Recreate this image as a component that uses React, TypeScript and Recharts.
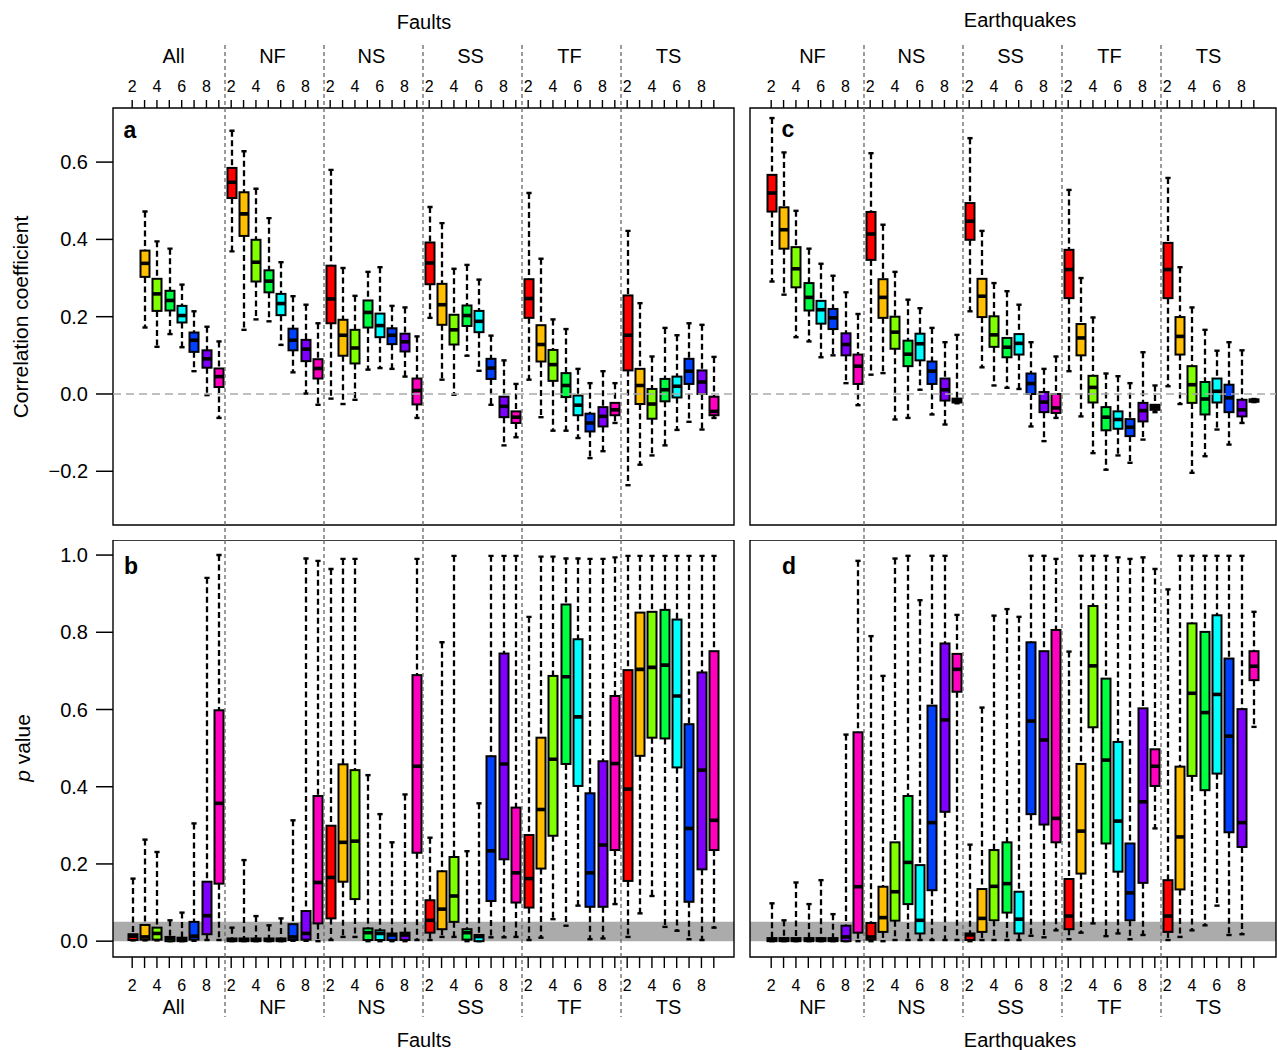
import React from 'react';
import { BarChart, Bar, XAxis, YAxis, ReferenceArea, ReferenceLine } from 'recharts';

const COLORS = ['#FF0000', '#FFBF00', '#80FF00', '#00FF40', '#00FFFF', '#0040FF', '#8000FF', '#FF00BF'];
const FONT = '"Liberation Sans", Arial, Helvetica, sans-serif';

const faultGroups = ['All', 'NF', 'NS', 'SS', 'TF', 'TS'];
const quakeGroups = ['NF', 'NS', 'SS', 'TF', 'TS'];

// each box: [min, q1, median, q3, max], one per window size 2..9
type Box = number[] | null;

const corrFaultAll: Box[] = [
  null,
  [0.172, 0.303, 0.338, 0.371, 0.472],
  [0.122, 0.215, 0.259, 0.298, 0.395],
  [0.155, 0.216, 0.242, 0.267, 0.376],
  [0.121, 0.185, 0.203, 0.228, 0.283],
  [0.059, 0.109, 0.139, 0.159, 0.214],
  [-0.003, 0.068, 0.091, 0.113, 0.174],
  [-0.062, 0.018, 0.045, 0.066, 0.136],
];
const corrFaultNF: Box[] = [
  [0.369, 0.507, 0.548, 0.585, 0.681],
  [0.166, 0.409, 0.466, 0.522, 0.628],
  [0.193, 0.291, 0.341, 0.399, 0.531],
  [0.188, 0.263, 0.292, 0.32, 0.455],
  [0.127, 0.204, 0.234, 0.259, 0.341],
  [0.056, 0.113, 0.139, 0.169, 0.253],
  [0.001, 0.085, 0.116, 0.14, 0.231],
  [-0.028, 0.04, 0.066, 0.09, 0.183],
];
const corrFaultNS: Box[] = [
  [-0.012, 0.183, 0.246, 0.332, 0.58],
  [-0.026, 0.099, 0.152, 0.192, 0.326],
  [-0.015, 0.079, 0.119, 0.166, 0.254],
  [0.063, 0.172, 0.211, 0.242, 0.316],
  [0.067, 0.147, 0.177, 0.208, 0.328],
  [0.065, 0.129, 0.152, 0.17, 0.228],
  [0.045, 0.11, 0.135, 0.156, 0.224],
  [-0.062, -0.027, 0.009, 0.04, 0.149],
];
const corrFaultSS: Box[] = [
  [0.197, 0.284, 0.339, 0.392, 0.484],
  [0.037, 0.179, 0.231, 0.285, 0.442],
  [-0.002, 0.128, 0.166, 0.205, 0.324],
  [0.099, 0.176, 0.203, 0.229, 0.334],
  [0.06, 0.16, 0.188, 0.215, 0.296],
  [-0.028, 0.039, 0.067, 0.091, 0.151],
  [-0.133, -0.06, -0.032, -0.007, 0.087],
  [-0.112, -0.075, -0.06, -0.045, 0.026],
];
const corrFaultTF: Box[] = [
  [0.037, 0.197, 0.247, 0.297, 0.52],
  [-0.06, 0.084, 0.128, 0.178, 0.35],
  [-0.095, 0.034, 0.076, 0.114, 0.193],
  [-0.095, -0.008, 0.022, 0.054, 0.168],
  [-0.114, -0.055, -0.029, -0.004, 0.065],
  [-0.166, -0.097, -0.075, -0.051, 0.028],
  [-0.148, -0.084, -0.058, -0.034, 0.059],
  [-0.075, -0.055, -0.041, -0.023, 0.028],
];
const corrFaultTS: Box[] = [
  [-0.236, 0.061, 0.152, 0.255, 0.422],
  [-0.183, -0.026, 0.022, 0.065, 0.235],
  [-0.159, -0.064, -0.026, 0.013, 0.097],
  [-0.133, -0.019, 0.011, 0.039, 0.171],
  [-0.093, -0.009, 0.02, 0.045, 0.152],
  [-0.072, 0.026, 0.059, 0.091, 0.183],
  [-0.092, 0.0, 0.031, 0.061, 0.179],
  [-0.062, -0.055, -0.045, -0.007, 0.096],
];

const pFaultAll: Box[] = [
  [0.002, 0.003, 0.013, 0.018, 0.162],
  [0.002, 0.004, 0.011, 0.042, 0.263],
  [0.002, 0.004, 0.02, 0.035, 0.231],
  [0.0, 0.0, 0.007, 0.011, 0.054],
  [0.0, 0.0, 0.005, 0.009, 0.074],
  [0.001, 0.004, 0.013, 0.05, 0.305],
  [0.003, 0.018, 0.066, 0.154, 0.941],
  [0.003, 0.149, 0.357, 0.598, 1.0],
];
const pFaultNF: Box[] = [
  [0.0, 0.0, 0.003, 0.007, 0.035],
  [0.0, 0.0, 0.003, 0.007, 0.21],
  [0.0, 0.0, 0.003, 0.007, 0.065],
  [0.0, 0.0, 0.003, 0.007, 0.041],
  [0.0, 0.0, 0.003, 0.007, 0.059],
  [0.001, 0.003, 0.011, 0.044, 0.313],
  [0.001, 0.004, 0.02, 0.078, 0.991],
  [0.0, 0.046, 0.152, 0.376, 0.985],
];
const pFaultNS: Box[] = [
  [0.003, 0.059, 0.165, 0.299, 0.964],
  [0.011, 0.154, 0.256, 0.458, 0.99],
  [0.011, 0.109, 0.259, 0.443, 0.99],
  [0.0, 0.003, 0.022, 0.033, 0.43],
  [0.0, 0.003, 0.02, 0.028, 0.329],
  [0.0, 0.003, 0.016, 0.02, 0.256],
  [0.0, 0.003, 0.016, 0.022, 0.38],
  [0.003, 0.229, 0.453, 0.689, 0.99],
];
const pFaultSS: Box[] = [
  [0.003, 0.022, 0.054, 0.106, 0.268],
  [0.011, 0.031, 0.083, 0.181, 0.774],
  [0.011, 0.05, 0.117, 0.218, 0.998],
  [0.0, 0.004, 0.022, 0.031, 0.233],
  [0.0, 0.0, 0.012, 0.016, 0.357],
  [0.01, 0.104, 0.234, 0.479, 0.998],
  [0.01, 0.212, 0.459, 0.745, 0.998],
  [0.011, 0.1, 0.177, 0.346, 0.998],
];
const pFaultTF: Box[] = [
  [0.003, 0.087, 0.162, 0.275, 0.84],
  [0.009, 0.188, 0.341, 0.527, 0.996],
  [0.057, 0.273, 0.471, 0.687, 0.996],
  [0.04, 0.459, 0.685, 0.872, 0.991],
  [0.092, 0.402, 0.581, 0.782, 0.991],
  [0.005, 0.089, 0.177, 0.383, 0.99],
  [0.007, 0.089, 0.249, 0.466, 0.99],
  [0.096, 0.236, 0.46, 0.635, 0.994],
];
const pFaultTS: Box[] = [
  [0.011, 0.156, 0.394, 0.702, 0.998],
  [0.072, 0.48, 0.704, 0.851, 0.998],
  [0.117, 0.527, 0.709, 0.853, 0.998],
  [0.037, 0.525, 0.715, 0.858, 0.998],
  [0.027, 0.45, 0.635, 0.833, 0.998],
  [0.005, 0.102, 0.292, 0.562, 0.998],
  [0.003, 0.186, 0.443, 0.696, 0.998],
  [0.035, 0.236, 0.313, 0.751, 0.998],
];

const corrQuakeNF: Box[] = [
  [0.291, 0.472, 0.52, 0.567, 0.714],
  [0.257, 0.376, 0.425, 0.483, 0.625],
  [0.147, 0.276, 0.324, 0.38, 0.474],
  [0.136, 0.216, 0.25, 0.287, 0.376],
  [0.095, 0.182, 0.218, 0.241, 0.337],
  [0.1, 0.168, 0.197, 0.22, 0.306],
  [0.028, 0.1, 0.128, 0.157, 0.263],
  [-0.029, 0.026, 0.072, 0.102, 0.207],
];
const corrQuakeNS: Box[] = [
  [0.05, 0.347, 0.414, 0.471, 0.623],
  [0.054, 0.197, 0.25, 0.297, 0.438],
  [-0.066, 0.117, 0.16, 0.2, 0.316],
  [-0.062, 0.072, 0.103, 0.138, 0.244],
  [0.011, 0.087, 0.13, 0.156, 0.222],
  [-0.053, 0.026, 0.059, 0.084, 0.171],
  [-0.079, -0.017, 0.011, 0.04, 0.134],
  [-0.024, -0.022, -0.017, -0.012, 0.153],
];
const corrQuakeSS: Box[] = [
  [0.214, 0.399, 0.447, 0.494, 0.662],
  [0.069, 0.199, 0.253, 0.298, 0.422],
  [0.022, 0.122, 0.153, 0.201, 0.287],
  [0.016, 0.095, 0.121, 0.145, 0.266],
  [0.013, 0.102, 0.131, 0.155, 0.231],
  [-0.084, 0.0, 0.027, 0.053, 0.134],
  [-0.122, -0.047, -0.021, 0.005, 0.065],
  [-0.062, -0.049, -0.036, 0.0, 0.097],
];
const corrQuakeTF: Box[] = [
  [0.059, 0.248, 0.322, 0.373, 0.528],
  [-0.058, 0.1, 0.145, 0.181, 0.3],
  [-0.153, -0.022, 0.017, 0.047, 0.198],
  [-0.196, -0.094, -0.06, -0.034, 0.053],
  [-0.159, -0.09, -0.066, -0.045, 0.046],
  [-0.178, -0.109, -0.086, -0.065, 0.028],
  [-0.118, -0.071, -0.043, -0.023, 0.108],
  [-0.047, -0.041, -0.034, -0.028, 0.022],
];
const corrQuakeTS: Box[] = [
  [0.02, 0.248, 0.322, 0.391, 0.559],
  [-0.026, 0.102, 0.149, 0.199, 0.328],
  [-0.204, -0.023, 0.024, 0.072, 0.224],
  [-0.161, -0.053, -0.013, 0.031, 0.166],
  [-0.092, -0.022, 0.007, 0.04, 0.112],
  [-0.131, -0.047, -0.01, 0.024, 0.134],
  [-0.075, -0.058, -0.041, -0.015, 0.113],
  [-0.021, -0.02, -0.017, -0.014, -0.013],
];

const pQuakeNF: Box[] = [
  [0.0, 0.0, 0.003, 0.008, 0.098],
  [0.0, 0.0, 0.003, 0.008, 0.054],
  [0.0, 0.0, 0.003, 0.008, 0.152],
  [0.0, 0.0, 0.003, 0.008, 0.096],
  [0.0, 0.0, 0.003, 0.008, 0.158],
  [0.0, 0.0, 0.003, 0.008, 0.07],
  [0.0, 0.0, 0.011, 0.04, 0.535],
  [0.0, 0.022, 0.141, 0.541, 0.985],
];
const pQuakeNS: Box[] = [
  [0.0, 0.004, 0.011, 0.047, 0.79],
  [0.0, 0.024, 0.061, 0.141, 0.687],
  [0.003, 0.053, 0.128, 0.256, 0.991],
  [0.003, 0.096, 0.204, 0.376, 0.998],
  [0.003, 0.02, 0.054, 0.197, 0.883],
  [0.003, 0.132, 0.307, 0.61, 0.998],
  [0.003, 0.335, 0.573, 0.771, 0.998],
  [0.003, 0.646, 0.704, 0.744, 0.845],
];
const pQuakeSS: Box[] = [
  [0.0, 0.003, 0.016, 0.02, 0.25],
  [0.003, 0.024, 0.059, 0.135, 0.605],
  [0.003, 0.054, 0.142, 0.236, 0.843],
  [0.003, 0.074, 0.149, 0.256, 0.86],
  [0.003, 0.02, 0.057, 0.128, 0.84],
  [0.014, 0.329, 0.57, 0.774, 0.998],
  [0.01, 0.302, 0.521, 0.751, 0.998],
  [0.028, 0.256, 0.318, 0.806, 0.99],
];
const pQuakeTF: Box[] = [
  [0.005, 0.031, 0.065, 0.161, 0.75],
  [0.022, 0.175, 0.285, 0.459, 0.998],
  [0.046, 0.554, 0.713, 0.868, 0.998],
  [0.013, 0.253, 0.469, 0.68, 0.998],
  [0.02, 0.18, 0.311, 0.516, 0.994],
  [0.005, 0.054, 0.125, 0.253, 0.99],
  [0.016, 0.151, 0.361, 0.603, 0.994],
  [0.292, 0.402, 0.453, 0.497, 0.964],
];
const pQuakeTS: Box[] = [
  [0.003, 0.024, 0.065, 0.158, 0.911],
  [0.011, 0.134, 0.27, 0.452, 0.998],
  [0.028, 0.428, 0.642, 0.823, 0.998],
  [0.041, 0.391, 0.592, 0.801, 0.998],
  [0.092, 0.434, 0.639, 0.844, 0.998],
  [0.016, 0.282, 0.531, 0.732, 0.998],
  [0.018, 0.244, 0.307, 0.601, 0.998],
  [0.555, 0.676, 0.712, 0.751, 0.853],
];

const corrTicks = [-0.2, 0, 0.2, 0.4, 0.6];
const pTicks = [0, 0.2, 0.4, 0.6, 0.8, 1.0];
const corrDomain = [-0.339, 0.74];
const pDomain = [-0.041, 1.039];

function toRows(groups: string[], sets: Box[][]) {
  const rows: any[] = [];
  groups.forEach((g, gi) => {
    sets[gi].forEach((b, k) => {
      rows.push({ key: `${g}|${k}`, color: COLORS[k], box: b, range: b ? [b[0], b[4]] : null });
    });
  });
  return rows;
}

const BoxShape = (props: any) => {
  const { x, y, width, height, payload } = props;
  const b = payload?.box;
  if (!b || x == null || y == null) return null;
  const top = Math.min(y, y + height);
  const h = Math.abs(height);
  const span = b[4] - b[0];
  const py = (v: number) => (span > 0 ? top + (h * (b[4] - v)) / span : top);
  const cx = Math.round(x + width / 2);
  const left = cx - width / 2;
  const yMax = py(b[4]);
  const yQ3 = py(b[3]);
  const yMed = py(b[2]);
  const yQ1 = py(b[1]);
  const yMin = py(b[0]);
  return (
    <g>
      <line x1={cx} x2={cx} y1={yMax} y2={yQ3} stroke="#000" strokeWidth={2.3} strokeDasharray="6 3.5" />
      <line x1={cx} x2={cx} y1={yQ1} y2={yMin} stroke="#000" strokeWidth={2.3} strokeDasharray="6 3.5" />
      <line x1={cx - 2.6} x2={cx + 2.6} y1={yMax} y2={yMax} stroke="#000" strokeWidth={2.4} />
      <line x1={cx - 2.6} x2={cx + 2.6} y1={yMin} y2={yMin} stroke="#000" strokeWidth={2.4} />
      <rect x={left} y={yQ3} width={width} height={Math.max(yQ1 - yQ3, 0.6)} fill={payload.color} stroke="#000" strokeWidth={2} />
      <line x1={left} x2={left + width} y1={yMed} y2={yMed} stroke="#000" strokeWidth={3.6} />
    </g>
  );
};

const makeXTick = (side: 'top' | 'bottom', edge: number, half: number, sepFrom: number, sepTo: number, groups: string[]) =>
  (p: any) => {
    const { x, payload } = p;
    const parts = String(payload.value).split('|');
    const g = parts[0];
    const k = Number(parts[1]);
    const dir = side === 'top' ? -1 : 1;
    const tickLen = side === 'top' ? 8 : 11;
    const numY = side === 'top' ? edge - 21.5 : edge + 28.5;
    const grpY = side === 'top' ? edge - 52.5 : edge + 50;
    return (
      <g>
        <line x1={x} x2={x} y1={edge} y2={edge + dir * tickLen} stroke="#000" strokeWidth={1.4} />
        {k % 2 === 0 && (
          <text x={x} y={numY} textAnchor="middle" dominantBaseline="central" fontSize={16} fontFamily={FONT} fill="#000">
            {k + 2}
          </text>
        )}
        {k === 3 && (
          <text x={x + half - 2} y={grpY} textAnchor="middle" dominantBaseline="central" fontSize={20} fontFamily={FONT} fill="#000">
            {g}
          </text>
        )}
        {k === 0 && groups.indexOf(g) > 0 && (
          <line x1={x - half} x2={x - half} y1={sepFrom} y2={sepTo} stroke="#666" strokeWidth={1.3} strokeDasharray="4 3" />
        )}
      </g>
    );
  };

const makeYTick = (edgeX: number) => (p: any) => {
  const { y, payload } = p;
  const v = Number(payload.value);
  const s = (v < -1e-9 ? '\u2212' : '') + Math.abs(v).toFixed(1);
  return (
    <g>
      <line x1={edgeX - 17} x2={edgeX} y1={y} y2={y} stroke="#000" strokeWidth={1.5} />
      <text x={edgeX - 25} y={y} textAnchor="end" dominantBaseline="central" fontSize={20} fontFamily={FONT} fill="#000">
        {s}
      </text>
    </g>
  );
};

interface PanelProps {
  rows: any[];
  groups: string[];
  side: 'top' | 'bottom';
  domain: number[];
  ticks: number[];
  showY: boolean;
  zero: boolean;
  band: boolean;
  left: number;
  top: number;
  width: number;
  height: number;
  margin: { top: number; right: number; bottom: number; left: number };
  axisH: number;
  pad: { left: number; right: number };
  sepFrom: number;
  sepTo: number;
}

const BoxPanel: React.FC<PanelProps> = (p) => {
  const yW = p.showY ? 113 : 0;
  const plotW = p.width - p.margin.left - p.margin.right - yW;
  const plotH = p.height - p.margin.top - p.margin.bottom - p.axisH;
  const half = (plotW - p.pad.left - p.pad.right) / p.rows.length / 2;
  const edge = p.side === 'top' ? p.margin.top + p.axisH : p.margin.top + plotH;
  return (
    <div style={{ position: 'absolute', left: p.left, top: p.top }}>
      <BarChart width={p.width} height={p.height} data={p.rows} margin={p.margin} barCategoryGap={0}>
        <XAxis
          xAxisId="cat"
          dataKey="key"
          type="category"
          orientation={p.side}
          height={p.axisH}
          interval={0}
          padding={p.pad}
          tickLine={false}
          axisLine={false}
          tick={makeXTick(p.side, edge, half, p.sepFrom, p.sepTo, p.groups)}
        />
        <XAxis xAxisId="full" dataKey="key" type="category" hide />
        <YAxis
          type="number"
          domain={p.domain}
          ticks={p.ticks}
          interval={0}
          allowDataOverflow
          hide={!p.showY}
          width={yW}
          tickLine={false}
          axisLine={false}
          tick={makeYTick(yW)}
        />
        {p.band && (
          <ReferenceArea xAxisId="full" y1={0} y2={0.05} fill="#ababab" fillOpacity={1} stroke="none" ifOverflow="visible" />
        )}
        {p.zero && (
          <ReferenceLine xAxisId="full" y={0} stroke="#ababab" strokeWidth={1.3} strokeDasharray="8 5" />
        )}
        <Bar xAxisId="cat" dataKey="range" barSize={9} shape={BoxShape} isAnimationActive={false} />
        <ReferenceArea
          xAxisId="full"
          y1={p.domain[0]}
          y2={p.domain[1]}
          fill="none"
          fillOpacity={0}
          stroke="#000"
          strokeWidth={1.4}
          ifOverflow="visible"
        />
      </BarChart>
    </div>
  );
};

const txt = (x: number, y: number, s: React.ReactNode, extra: any = {}) => (
  <text x={x} y={y} textAnchor="middle" dominantBaseline="central" fontSize={20} fontFamily={FONT} fill="#000" {...extra}>
    {s}
  </text>
);

export default function App() {
  const rowsA = toRows(faultGroups, [corrFaultAll, corrFaultNF, corrFaultNS, corrFaultSS, corrFaultTF, corrFaultTS]);
  const rowsB = toRows(faultGroups, [pFaultAll, pFaultNF, pFaultNS, pFaultSS, pFaultTF, pFaultTS]);
  const rowsC = toRows(quakeGroups, [corrQuakeNF, corrQuakeNS, corrQuakeSS, corrQuakeTF, corrQuakeTS]);
  const rowsD = toRows(quakeGroups, [pQuakeNF, pQuakeNS, pQuakeSS, pQuakeTF, pQuakeTS]);

  return (
    <div style={{ position: 'absolute', left: 0, top: 0, width: 1277, height: 1050, background: '#fff', fontFamily: FONT }}>
      <BoxPanel
        rows={rowsA} groups={faultGroups} side="top" domain={corrDomain} ticks={corrTicks} showY zero band={false}
        left={0} top={0} width={740} height={540} margin={{ top: 0, right: 6, bottom: 15, left: 0 }}
        axisH={108} pad={{ left: 13, right: 14 }} sepFrom={45} sepTo={540}
      />
      <BoxPanel
        rows={rowsB} groups={faultGroups} side="bottom" domain={pDomain} ticks={pTicks} showY zero={false} band
        left={0} top={540} width={740} height={510} margin={{ top: 0, right: 6, bottom: 0, left: 0 }}
        axisH={93} pad={{ left: 13, right: 14 }} sepFrom={0} sepTo={477}
      />
      <BoxPanel
        rows={rowsC} groups={quakeGroups} side="top" domain={corrDomain} ticks={corrTicks} showY={false} zero band={false}
        left={740} top={0} width={537} height={540} margin={{ top: 0, right: 1, bottom: 15, left: 10 }}
        axisH={108} pad={{ left: 15, right: 16 }} sepFrom={45} sepTo={540}
      />
      <BoxPanel
        rows={rowsD} groups={quakeGroups} side="bottom" domain={pDomain} ticks={pTicks} showY={false} zero={false} band
        left={740} top={540} width={537} height={510} margin={{ top: 0, right: 1, bottom: 0, left: 10 }}
        axisH={93} pad={{ left: 15, right: 16 }} sepFrom={0} sepTo={477}
      />
      <svg width={1277} height={1050} style={{ position: 'absolute', left: 0, top: 0, pointerEvents: 'none' }}>
        {txt(424, 22, 'Faults')}
        {txt(1020, 20, 'Earthquakes')}
        {txt(424, 1040, 'Faults')}
        {txt(1020, 1040, 'Earthquakes')}
        {txt(20, 317, 'Correlation coefficient', { transform: 'rotate(-90 20 317)', fontSize: 21 })}
        {txt(22, 748, <><tspan fontStyle="italic">p</tspan> value</>, { transform: 'rotate(-90 22 748)', fontSize: 21 })}
        {txt(130, 130, 'a', { fontWeight: 'bold', fontSize: 23 })}
        {txt(131, 566, 'b', { fontWeight: 'bold', fontSize: 23 })}
        {txt(788, 129, 'c', { fontWeight: 'bold', fontSize: 23 })}
        {txt(789, 566, 'd', { fontWeight: 'bold', fontSize: 23 })}
      </svg>
    </div>
  );
}
